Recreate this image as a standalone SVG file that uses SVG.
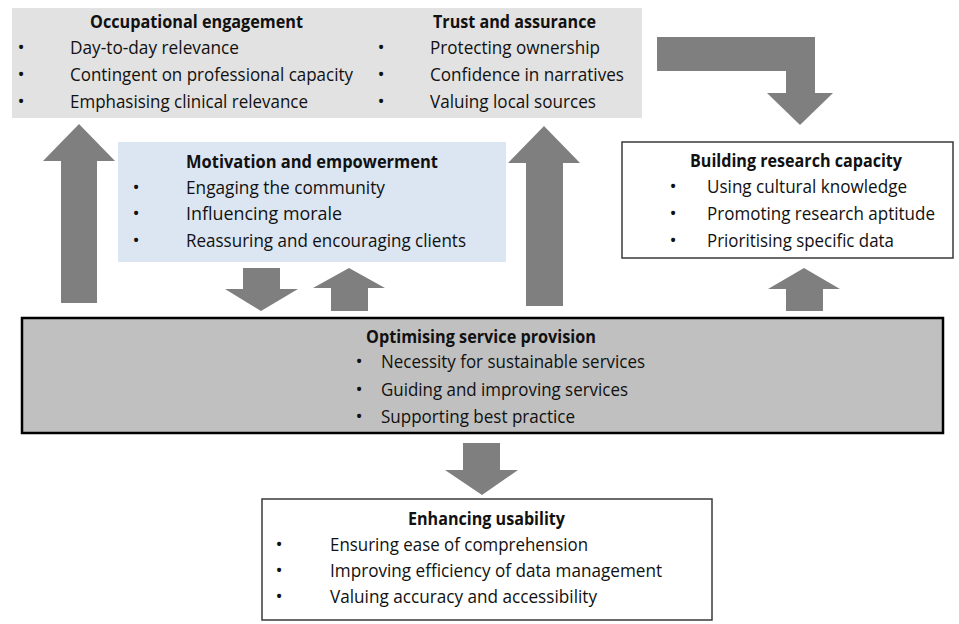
<svg xmlns="http://www.w3.org/2000/svg" width="959" height="624" viewBox="0 0 959 624">
<style>
text{font-family:"Open Sans","Liberation Sans",sans-serif;font-size:18px;fill:#111111}
.t{font-weight:700}
.b{text-anchor:middle;font-size:19px}
.arrow{fill:#7f7f7f}
</style>
<rect width="959" height="624" fill="#ffffff"/>
<g id="connectors">
<polygon class="arrow" points="79,124 115,161 97,161 97,303 61,303 61,161 43,161"/>
<polygon class="arrow" points="544,126 580,163 563,163 563,306 526,306 526,163 508,163"/>
<polygon class="arrow" points="243,268 280,268 280,289 298,289 261,311 225,289 243,289"/>
<polygon class="arrow" points="349,268 385,288 368,288 368,311 331,311 331,288 313,288"/>
<polygon class="arrow" points="804,268 840,289 823,289 823,311 786,311 786,289 768,289"/>
<polygon class="arrow" points="463,443 500,443 500,470 518,470 482,495 445,470 463,470"/>
<polygon class="arrow" points="657,37 815,37 815,93 833,93 800,125 767,93 786,93 786,71 657,71"/>
</g>
<g id="top-box">
<rect x="12" y="8" width="630" height="110" fill="#e2e2e2"/>
<g id="occupational-engagement">
<text class="t" x="90" y="28" textLength="213" lengthAdjust="spacingAndGlyphs">Occupational engagement</text>
<text class="b" x="21" y="54">•</text>
<text class="b" x="21" y="81">•</text>
<text class="b" x="21" y="108">•</text>
<text x="70" y="54" textLength="169" lengthAdjust="spacingAndGlyphs">Day-to-day relevance</text>
<text x="70" y="81" textLength="283" lengthAdjust="spacingAndGlyphs">Contingent on professional capacity</text>
<text x="70" y="108" textLength="238" lengthAdjust="spacingAndGlyphs">Emphasising clinical relevance</text>
</g>
<g id="trust-and-assurance">
<text class="t" x="433" y="28" textLength="163" lengthAdjust="spacingAndGlyphs">Trust and assurance</text>
<text class="b" x="381" y="54">•</text>
<text class="b" x="381" y="81">•</text>
<text class="b" x="381" y="108">•</text>
<text x="430" y="54" textLength="170" lengthAdjust="spacingAndGlyphs">Protecting ownership</text>
<text x="430" y="81" textLength="194" lengthAdjust="spacingAndGlyphs">Confidence in narratives</text>
<text x="430" y="108" textLength="166" lengthAdjust="spacingAndGlyphs">Valuing local sources</text>
</g>
</g>
<g id="motivation-and-empowerment">
<rect x="118" y="142" width="388" height="120" fill="#dce6f2"/>
<text class="t" x="186" y="168" textLength="252" lengthAdjust="spacingAndGlyphs">Motivation and empowerment</text>
<text class="b" x="136" y="194">•</text>
<text class="b" x="136" y="220">•</text>
<text class="b" x="136" y="247">•</text>
<text x="186" y="194" textLength="199" lengthAdjust="spacingAndGlyphs">Engaging the community</text>
<text x="186" y="220" textLength="156" lengthAdjust="spacingAndGlyphs">Influencing morale</text>
<text x="186" y="247" textLength="280" lengthAdjust="spacingAndGlyphs">Reassuring and encouraging clients</text>
</g>
<g id="building-research-capacity">
<rect x="622" y="142" width="331" height="116" fill="#ffffff" stroke="#3a3a3a" stroke-width="1.5"/>
<text class="t" x="690" y="167" textLength="212" lengthAdjust="spacingAndGlyphs">Building research capacity</text>
<text class="b" x="673" y="193">•</text>
<text class="b" x="673" y="220">•</text>
<text class="b" x="673" y="247">•</text>
<text x="707" y="193" textLength="200" lengthAdjust="spacingAndGlyphs">Using cultural knowledge</text>
<text x="707" y="220" textLength="228" lengthAdjust="spacingAndGlyphs">Promoting research aptitude</text>
<text x="707" y="247" textLength="187" lengthAdjust="spacingAndGlyphs">Prioritising specific data</text>
</g>
<g id="optimising-service-provision">
<rect x="22" y="318" width="921" height="115" fill="#c0c0c0" stroke="#000000" stroke-width="2.5"/>
<text class="t" x="366" y="343" textLength="230" lengthAdjust="spacingAndGlyphs">Optimising service provision</text>
<text class="b" x="359" y="368">•</text>
<text class="b" x="359" y="396">•</text>
<text class="b" x="359" y="423">•</text>
<text x="381" y="368" textLength="264" lengthAdjust="spacingAndGlyphs">Necessity for sustainable services</text>
<text x="381" y="396" textLength="247" lengthAdjust="spacingAndGlyphs">Guiding and improving services</text>
<text x="381" y="423" textLength="194" lengthAdjust="spacingAndGlyphs">Supporting best practice</text>
</g>
<g id="enhancing-usability">
<rect x="262" y="499" width="450" height="121" fill="#ffffff" stroke="#3a3a3a" stroke-width="1.5"/>
<text class="t" x="408" y="525" textLength="157" lengthAdjust="spacingAndGlyphs">Enhancing usability</text>
<text class="b" x="279" y="551">•</text>
<text class="b" x="279" y="577">•</text>
<text class="b" x="279" y="603">•</text>
<text x="330" y="551" textLength="258" lengthAdjust="spacingAndGlyphs">Ensuring ease of comprehension</text>
<text x="330" y="577" textLength="332" lengthAdjust="spacingAndGlyphs">Improving efficiency of data management</text>
<text x="330" y="603" textLength="267" lengthAdjust="spacingAndGlyphs">Valuing accuracy and accessibility</text>
</g>
</svg>
